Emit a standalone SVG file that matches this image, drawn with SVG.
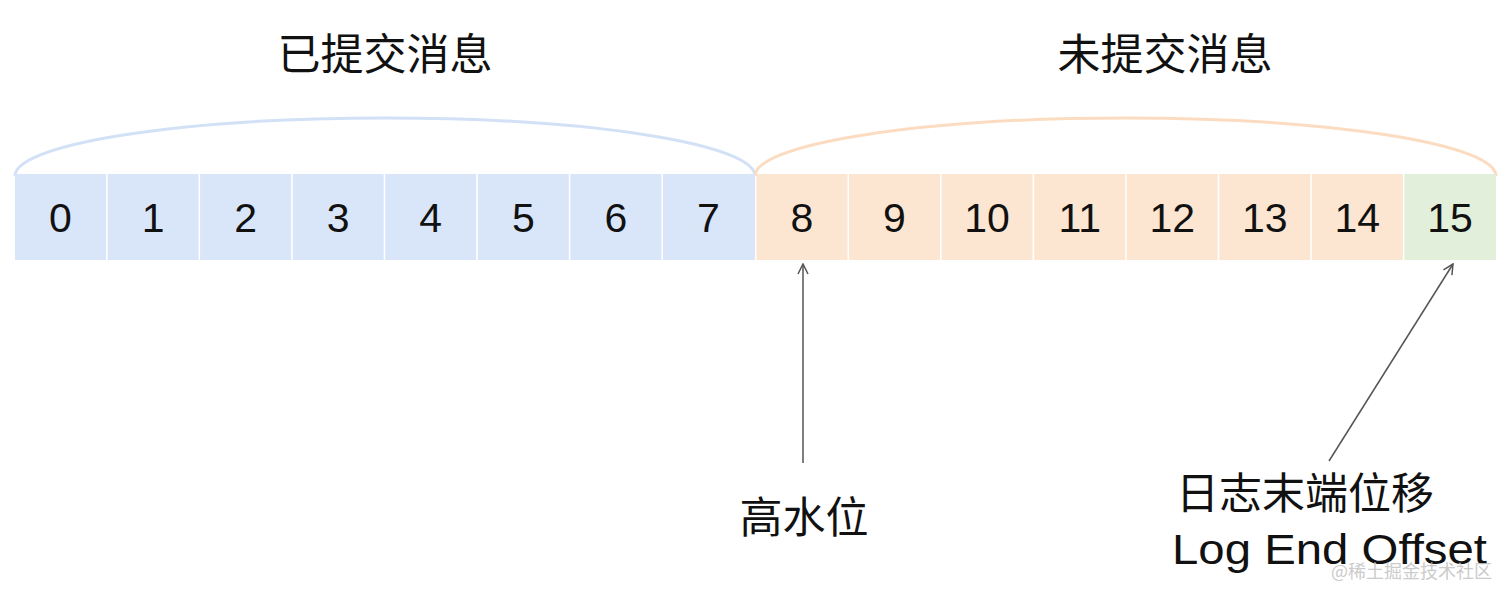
<svg xmlns="http://www.w3.org/2000/svg" width="1512" height="598" viewBox="0 0 1512 598">
<style>
.t{font-family:"Liberation Sans","Noto Sans CJK SC",sans-serif;fill:#111;}
.cn{font-family:"Noto Sans CJK SC","Liberation Sans",sans-serif;fill:#111;font-size:43px;}
.num{font-size:41px;text-anchor:middle;}
.b{fill:#d9e6f9;}
.o{fill:#fde6d1;}
.g{fill:#e1efdb;}
.arc{fill:none;stroke-width:3;}
.con{stroke:#555;stroke-width:1.5;fill:none;}
</style>
<defs>
<marker id="ah" viewBox="0 0 12 12" refX="11" refY="6" markerWidth="12" markerHeight="12" markerUnits="userSpaceOnUse" orient="auto">
<path d="M1,1 L11,6 L1,11" fill="none" stroke="#555" stroke-width="1.5"/>
</marker>
</defs>
<rect width="1512" height="598" fill="#fff"/>
<g id="labels-top">
<text class="cn" x="385" y="70" text-anchor="middle">已提交消息</text>
<text class="cn" x="1165" y="70" text-anchor="middle">未提交消息</text>
</g>
<g id="braces">
<path class="arc" stroke="#d3e1f6" d="M15,176 A370,58 0 0 1 755,176"/>
<path class="arc" stroke="#fbdcc0" d="M755,176 A370.5,58 0 0 1 1496,176"/>
</g>
<g id="cells">
<g id="cell0"><rect class="b" x="15" y="174" width="91" height="86"/><text class="t num" x="60.5" y="232">0</text></g>
<g id="cell1"><rect class="b" x="107.6" y="174" width="91" height="86"/><text class="t num" x="153.1" y="232">1</text></g>
<g id="cell2"><rect class="b" x="200.1" y="174" width="91" height="86"/><text class="t num" x="245.6" y="232">2</text></g>
<g id="cell3"><rect class="b" x="292.7" y="174" width="91" height="86"/><text class="t num" x="338.2" y="232">3</text></g>
<g id="cell4"><rect class="b" x="385.2" y="174" width="91" height="86"/><text class="t num" x="430.7" y="232">4</text></g>
<g id="cell5"><rect class="b" x="477.8" y="174" width="91" height="86"/><text class="t num" x="523.3" y="232">5</text></g>
<g id="cell6"><rect class="b" x="570.4" y="174" width="91" height="86"/><text class="t num" x="615.9" y="232">6</text></g>
<g id="cell7"><rect class="b" x="662.9" y="174" width="92" height="86"/><text class="t num" x="708.4" y="232">7</text></g>
<g id="cell8"><rect class="o" x="756.5" y="174" width="91" height="86"/><text class="t num" x="802" y="232">8</text></g>
<g id="cell9"><rect class="o" x="849" y="174" width="91" height="86"/><text class="t num" x="894.5" y="232">9</text></g>
<g id="cell10"><rect class="o" x="941.6" y="174" width="91" height="86"/><text class="t num" x="987.1" y="232">10</text></g>
<g id="cell11"><rect class="o" x="1034.2" y="174" width="91" height="86"/><text class="t num" x="1079.7" y="232">11</text></g>
<g id="cell12"><rect class="o" x="1126.7" y="174" width="91" height="86"/><text class="t num" x="1172.2" y="232">12</text></g>
<g id="cell13"><rect class="o" x="1219.3" y="174" width="91" height="86"/><text class="t num" x="1264.8" y="232">13</text></g>
<g id="cell14"><rect class="o" x="1311.8" y="174" width="91" height="86"/><text class="t num" x="1357.3" y="232">14</text></g>
<g id="cell15"><rect class="g" x="1404.4" y="174" width="91.6" height="86"/><text class="t num" x="1450" y="232">15</text></g>
</g>
<g id="connectors">
<line class="con" x1="803" y1="463" x2="803" y2="264" marker-end="url(#ah)"/>
<line class="con" x1="1329" y1="461" x2="1453" y2="264" marker-end="url(#ah)"/>
</g>
<g id="hw">
<text class="cn" x="804" y="533" text-anchor="middle">高水位</text>
</g>
<g id="leo">
<text class="cn" x="1305" y="509" text-anchor="middle">日志末端位移</text>
<text class="t" x="1172" y="564" font-size="42" textLength="315" lengthAdjust="spacingAndGlyphs">Log End Offset</text>
</g>
<text x="1331" y="578" font-family="Noto Sans CJK SC,Liberation Sans,sans-serif" font-size="18" fill="#c4c4c4" fill-opacity="0.9">@稀土掘金技术社区</text>
</svg>
